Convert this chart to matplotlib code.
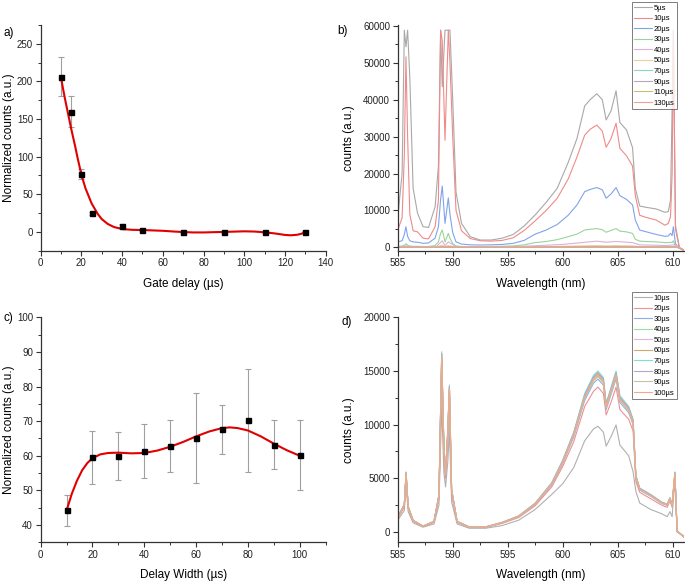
import matplotlib
matplotlib.use("Agg")
import matplotlib.pyplot as plt
from matplotlib.ticker import MultipleLocator

plt.rcParams["font.family"] = ["Liberation Sans", "DejaVu Sans"]

# ---- panel a: gate delay ----
delay_x = [10, 15, 20, 25, 40, 50, 70, 90, 110, 130]
delay_y = [206, 160, 77, 25, 8, 2, 0, 0, 0, 0]
delay_err = [26, 20, 7, 2, 2, 1, 1, 1, 1, 1]
delay_fit_x = [10, 11, 12, 13, 15, 17, 18, 20, 22, 25, 28, 30, 33, 36, 40, 45, 50, 55, 60,
               65, 70, 75, 80, 90, 100, 105, 110, 115, 120, 123, 126, 128, 130]
delay_fit_y = [205, 190, 176, 163, 137, 113, 100, 76, 58, 38, 24, 17, 10.5, 6.5, 3.8, 2.8, 2.5,
               2.0, 1.5, 0.6, -0.2, -0.7, -0.7, 0, 0.8, 0.5, -0.5, -2, -4, -4.5, -3.8, -2.5, -0.5]

# ---- panel c: delay width ----
width_x = [10, 20, 30, 40, 50, 60, 70, 80, 90, 100]
width_y = [44.2, 59.5, 60.0, 61.5, 62.8, 65.0, 67.6, 70.2, 63.2, 60.1]
width_err = [4.4, 7.6, 7.0, 7.8, 7.5, 13.0, 7.1, 15.0, 7.1, 10.1]
width_fit_x = [10, 12, 14, 16, 18, 20, 23, 26, 30, 35, 40, 45, 50, 55, 60, 65, 70, 73, 76,
               80, 85, 90, 95, 100]
width_fit_y = [44.2, 49.0, 52.8, 55.8, 57.9, 59.3, 60.4, 60.8, 60.9, 60.7, 60.8, 61.5, 62.6,
               64.0, 65.6, 67.0, 68.0, 68.2, 68.0, 67.3, 65.6, 63.5, 61.6, 60.0]

# ---- panel b: spectra vs gate delay ----
wl_b = [585.0, 585.4, 585.6, 585.75, 585.9, 586.1, 586.4, 586.8, 587.3, 587.8, 588.4, 588.7,
        588.9, 589.05, 589.3, 589.6, 589.75, 590.0, 590.3, 590.8, 591.6, 592.5, 593.5, 594.5,
        595.5, 596.5, 597.5, 598.5, 599.5, 600.5, 601.3, 602.0, 602.5, 603.1, 603.6, 603.95,
        604.4, 604.85, 605.2, 605.8, 606.35, 606.6, 607.0, 607.5, 608.5, 609.3, 609.6, 609.8,
        609.95, 610.06, 610.25, 610.6, 611.0]
b_5us = [8000, 20000, 58800, 54300, 58800, 46000, 16000, 9300, 5600, 5400, 11000, 22000,
         58800, 43500, 58800, 58800, 58800, 40000, 15000, 6500, 2900, 2000, 2000, 2500,
         3500, 5800, 8800, 12200, 16000, 23000, 29500, 38300, 40000, 41600, 40000, 34500,
         37000, 42400, 33800, 31800, 27000, 16000, 11200, 10900, 10400, 9500, 9700, 12800,
         38000, 58800, 6000, 0, -800]
b_10us = [4700, 8000, 25000, 51600, 30000, 9000, 4500, 4200, 2500, 2300, 5600, 12800,
          58800, 56000, 29000, 58800, 50000, 30000, 10000, 4500, 2400, 1800, 1700, 1900,
          2600, 4600, 7200, 10000, 13300, 18500, 24500, 30400, 32000, 33100, 31500, 27100,
          29500, 33600, 26800, 24800, 22000, 14000, 8700, 8200, 7400, 6000, 6500, 8300,
          20000, 58800, 5000, 0, -800]
b_20us = [1500, 1800, 3500, 5600, 3000, 1800, 1500, 1400, 1100, 1200, 2500, 5600,
          13000, 16600, 6500, 13400, 9000, 4000, 1500, 900, 700, 650, 700, 800,
          1100, 1900, 3600, 4700, 6200, 8700, 11500, 15100, 15700, 16200, 15600, 13300,
          14500, 16200, 14000, 13000, 11500, 7400, 4700, 4300, 3500, 3000, 3100, 3800,
          3200, 5600, 1000, -200, -800]
b_30us = [300, 350, 600, 1000, 600, 350, 300, 300, 250, 250, 500, 1500,
          3800, 4700, 1500, 3800, 2500, 1000, 400, 250, 200, 200, 250, 300,
          400, 700, 1300, 1600, 2100, 2900, 3600, 4700, 4900, 5100, 4800, 4100,
          4600, 5100, 4400, 4200, 3800, 2200, 1700, 1600, 1500, 1300, 1300, 1400,
          1300, 1800, 300, -200, -800]

wl_b_low = [585.0, 585.75, 586.5, 588.5, 589.05, 589.3, 589.6, 590.3, 592.5, 596.0, 600.0,
            603.1, 603.95, 604.85, 606.35, 607.0, 609.5, 610.15, 610.5, 611.0]
b_40us = [120, 400, 120, 150, 1800, 500, 1500, 200, 100, 250, 800, 1700, 1400, 1600, 1300,
          700, 500, 700, 0, -700]
b_50us = [60, 150, 60, 70, 600, 200, 500, 80, 50, 100, 300, 500, 420, 480, 400, 250, 200,
          250, 0, -700]
b_70us = [40, 80, 40, 40, 300, 100, 250, 50, 30, 60, 150, 250, 210, 240, 200, 120, 100, 120,
          -50, -700]
b_90us = [30, 50, 30, 30, 150, 60, 130, 30, 20, 40, 90, 130, 110, 120, 100, 70, 60, 70, -50,
          -700]
b_110us = [20, 30, 20, 20, 80, 30, 70, 20, 10, 20, 50, 70, 60, 65, 55, 40, 30, 40, -50, -700]
b_130us = [10, 20, 10, 10, 40, 20, 35, 10, 5, 10, 25, 35, 30, 35, 30, 20, 15, 20, -50, -700]

b_labels = ["5µs", "10µs", "20µs", "30µs", "40µs", "50µs", "70µs", "90µs", "110µs", "130µs"]
b_colors = ["#a8a8a8", "#f08a8a", "#7fa4ec", "#9ad49a", "#dcb0dc", "#ead2a0", "#8ad8c0",
            "#bca4bc", "#c8c070", "#f0a090"]

# ---- panel d: spectra vs delay width ----
wl_d = [585.0, 585.6, 585.76, 585.95, 586.4, 587.3, 588.3, 588.75, 589.0, 589.2, 589.35,
        589.55, 589.7, 589.9, 590.4, 591.5, 593.0, 594.5, 596.0, 597.5, 599.0, 600.0, 601.0,
        602.0, 602.8, 603.2, 603.7, 603.95, 604.4, 604.85, 605.2, 606.0, 606.4, 606.65,
        607.0, 608.0, 609.0, 609.5, 609.75, 609.95, 610.2, 610.4, 611.0]
d_10us = [1100, 2000, 4500, 1900, 850, 450, 750, 2500, 11700, 5500, 4200, 6500, 9500, 2800,
          750, 350, 350, 600, 1100, 2100, 3500, 4500, 6000, 8500, 9600, 9850, 9300, 8000,
          8900, 9970, 8100, 7100, 5600, 3800, 2700, 2100, 1700, 1430, 1900, 1430, 5000, 0,
          -350]
d_20us = [1300, 2300, 5000, 2200, 1000, 500, 900, 3100, 14800, 7000, 5000, 8300, 12000, 3500,
          900, 430, 430, 800, 1350, 2450, 4200, 6100, 8400, 11700, 13100, 13500, 12900, 10900,
          12100, 13500, 11400, 10500, 9400, 4700, 3700, 3100, 2500, 2300, 2900, 2300, 5000, 50,
          -450]
d_30us = [1330, 2470, 5320, 2280, 1050, 520, 950, 3330, 15960, 7600, 5320, 9030, 13020, 3800,
          950, 460, 460, 860, 1430, 2570, 4370, 6370, 8840, 12260, 13870, 14250, 13680, 11400,
          12830, 14250, 12070, 11120, 9980, 5040, 3900, 3330, 2660, 2470, 3040, 2470, 5320, 100,
          -450]
d_40us = [1350, 2510, 5400, 2320, 1060, 530, 970, 3380, 16210, 7720, 5400, 9170, 13220, 3860,
          970, 460, 460, 870, 1450, 2610, 4440, 6470, 8970, 12450, 14090, 14480, 13900, 11580,
          13030, 14480, 12260, 11290, 10130, 5110, 3960, 3380, 2700, 2510, 3090, 2510, 5400, 100,
          -450]
d_50us = [1370, 2550, 5490, 2350, 1080, 540, 980, 3430, 16460, 7840, 5490, 9310, 13430, 3920,
          980, 470, 470, 880, 1470, 2650, 4510, 6570, 9110, 12640, 14310, 14700, 14110, 11760,
          13230, 14700, 12450, 11470, 10290, 5190, 4020, 3430, 2740, 2550, 3140, 2550, 5490, 100,
          -450]
d_60us = [1380, 2560, 5520, 2360, 1080, 540, 990, 3450, 16550, 7880, 5520, 9360, 13490, 3940,
          990, 470, 470, 890, 1480, 2660, 4530, 6600, 9160, 12710, 14380, 14780, 14180, 11820,
          13300, 14780, 12510, 11520, 10340, 5220, 4040, 3450, 2760, 2560, 3150, 2560, 5520, 100,
          -450]
d_70us = [1400, 2600, 5600, 2400, 1100, 550, 1000, 3500, 16800, 8000, 5600, 9500, 13700, 4000,
          1000, 480, 480, 900, 1500, 2700, 4600, 6700, 9300, 12900, 14600, 15000, 14400, 12000,
          13500, 15000, 12700, 11700, 10500, 5300, 4100, 3500, 2800, 2600, 3200, 2600, 5600, 100,
          -450]
d_80us = [1390, 2570, 5540, 2380, 1090, 540, 990, 3470, 16630, 7920, 5540, 9410, 13560, 3960,
          990, 480, 480, 890, 1490, 2670, 4550, 6630, 9210, 12770, 14450, 14850, 14260, 11880,
          13370, 14850, 12570, 11580, 10400, 5250, 4060, 3470, 2770, 2570, 3170, 2570, 5540, 100,
          -450]
d_90us = [1370, 2540, 5460, 2340, 1070, 540, 980, 3410, 16380, 7800, 5460, 9260, 13360, 3900,
          980, 470, 470, 880, 1460, 2630, 4490, 6530, 9070, 12580, 14240, 14630, 14040, 11700,
          13160, 14630, 12380, 11410, 10240, 5170, 4000, 3410, 2730, 2540, 3120, 2540, 5460, 100,
          -450]
d_100us = [1360, 2520, 5430, 2330, 1070, 530, 970, 3400, 16300, 7760, 5430, 9220, 13290, 3880,
           970, 470, 470, 870, 1460, 2620, 4460, 6500, 9020, 12510, 14160, 14550, 13970, 11640,
           13100, 14550, 12320, 11350, 10190, 5140, 3980, 3400, 2720, 2520, 3100, 2520, 5430, 100,
           -450]

d_labels = ["10µs", "20µs", "30µs", "40µs", "50µs", "60µs", "70µs", "80µs", "90µs", "100µs"]
d_colors = ["#b0b0b0", "#f09090", "#8cacec", "#a0dca0", "#e0b4e0", "#d0a868", "#7ee0d0",
            "#b8a4c4", "#c4c4a0", "#f4a888"]

AX_COLOR = "#333333"


def style_axes(ax, xmaj, xmin, ymaj, ymin):
    for side in ("top", "right"):
        ax.spines[side].set_visible(False)
    for side in ("left", "bottom"):
        ax.spines[side].set_color(AX_COLOR)
        ax.spines[side].set_linewidth(0.9)
    ax.xaxis.set_major_locator(MultipleLocator(xmaj))
    ax.xaxis.set_minor_locator(MultipleLocator(xmin))
    ax.yaxis.set_major_locator(MultipleLocator(ymaj))
    ax.yaxis.set_minor_locator(MultipleLocator(ymin))
    ax.tick_params(which="major", direction="out", length=3.5, width=0.8, colors=AX_COLOR,
                   labelsize=7, labelcolor="#222222", pad=2)
    ax.tick_params(which="minor", direction="out", length=2, width=0.7, colors=AX_COLOR)


def main() -> None:
    fig = plt.figure(figsize=(6.85, 5.82), dpi=100)

    ax_a = fig.add_axes([0.0594, 0.5692, 0.416, 0.3878])
    ax_b = fig.add_axes([0.5806, 0.5692, 0.4175, 0.3878])
    ax_c = fig.add_axes([0.0594, 0.0682, 0.416, 0.3866])
    ax_d = fig.add_axes([0.5806, 0.0682, 0.4175, 0.3866])

    # a) gate delay
    ax_a.errorbar(delay_x, delay_y, yerr=delay_err, fmt="none", ecolor="#a0a0a0",
                  elinewidth=0.8, capsize=2.5, capthick=0.8, zorder=2)
    ax_a.plot(delay_fit_x, delay_fit_y, color="#e00000", lw=1.5, zorder=3)
    ax_a.plot(delay_x, delay_y, "s", color="black", ms=3.6, zorder=4)
    ax_a.set_xlim(0, 140)
    ax_a.set_ylim(-25, 275)
    style_axes(ax_a, 20, 10, 50, 25)
    ax_a.set_xlabel("Gate delay (µs)", fontsize=8.5)
    ax_a.set_ylabel("Normalized counts (a.u.)", fontsize=8.5)

    # c) delay width
    ax_c.errorbar(width_x, width_y, yerr=width_err, fmt="none", ecolor="#a0a0a0",
                  elinewidth=0.8, capsize=2.5, capthick=0.8, zorder=2)
    ax_c.plot(width_fit_x, width_fit_y, color="#e00000", lw=1.5, zorder=3)
    ax_c.plot(width_x, width_y, "s", color="black", ms=3.6, zorder=4)
    ax_c.set_xlim(0, 110)
    ax_c.set_ylim(35, 100)
    style_axes(ax_c, 20, 10, 10, 5)
    ax_c.set_xlabel("Delay Width (µs)", fontsize=8.5)
    ax_c.set_ylabel("Normalized counts (a.u.)", fontsize=8.5)

    # b) spectra, gate delay series
    full_b = [b_5us, b_10us, b_20us, b_30us]
    low_b = [b_40us, b_50us, b_70us, b_90us, b_110us, b_130us]
    for i, ys in enumerate(full_b):
        ax_b.plot(wl_b, ys, color=b_colors[i], lw=0.8, label=b_labels[i])
    for j, ys in enumerate(low_b):
        k = j + len(full_b)
        ax_b.plot(wl_b_low, ys, color=b_colors[k], lw=0.8, label=b_labels[k])
    ax_b.set_xlim(585, 611)
    ax_b.set_ylim(-900, 60200)
    style_axes(ax_b, 5, 2.5, 10000, 5000)
    ax_b.set_xlabel("Wavelength (nm)", fontsize=8.5)
    ax_b.set_ylabel("counts (a.u.)", fontsize=8.5)

    # d) spectra, delay width series
    d_series = [d_10us, d_20us, d_30us, d_40us, d_50us, d_60us, d_70us, d_80us, d_90us, d_100us]
    for i, ys in enumerate(d_series):
        ax_d.plot(wl_d, ys, color=d_colors[i], lw=0.8, label=d_labels[i])
    ax_d.set_xlim(585, 611)
    ax_d.set_ylim(-960, 20000)
    style_axes(ax_d, 5, 2.5, 5000, 2500)
    ax_d.set_xlabel("Wavelength (nm)", fontsize=8.5)
    ax_d.set_ylabel("counts (a.u.)", fontsize=8.5)

    # label positions
    for ax in (ax_a, ax_c):
        ax.yaxis.set_label_coords(-0.09, 0.5)
        ax.xaxis.set_label_coords(0.5, -0.12)
    for ax in (ax_b, ax_d):
        ax.yaxis.set_label_coords(-0.15, 0.5)
        ax.xaxis.set_label_coords(0.5, -0.12)

    # legends, Origin style
    for ax, top in ((ax_b, 1 - 2 / 582), (ax_d, 1 - 292 / 582)):
        leg = ax.legend(loc="upper right", bbox_to_anchor=(677 / 685, top),
                        bbox_transform=fig.transFigure, fontsize=5.5, frameon=True,
                        fancybox=False, edgecolor="#444444", handlelength=2.3,
                        handletextpad=0.3, labelspacing=0.42, borderpad=0.3,
                        borderaxespad=0)
        leg.get_frame().set_linewidth(0.6)

    # panel letters
    fig.text(3 / 685, 1 - 33 / 582, "a)", fontsize=8.5, va="center")
    fig.text(337 / 685, 1 - 31 / 582, "b)", fontsize=8.5, va="center")
    fig.text(3 / 685, 1 - 318 / 582, "c)", fontsize=8.5, va="center")
    fig.text(341 / 685, 1 - 322 / 582, "d)", fontsize=8.5, va="center")

    fig.savefig("out.png", dpi=100)
    plt.close(fig)


if __name__ == "__main__":
    main()
